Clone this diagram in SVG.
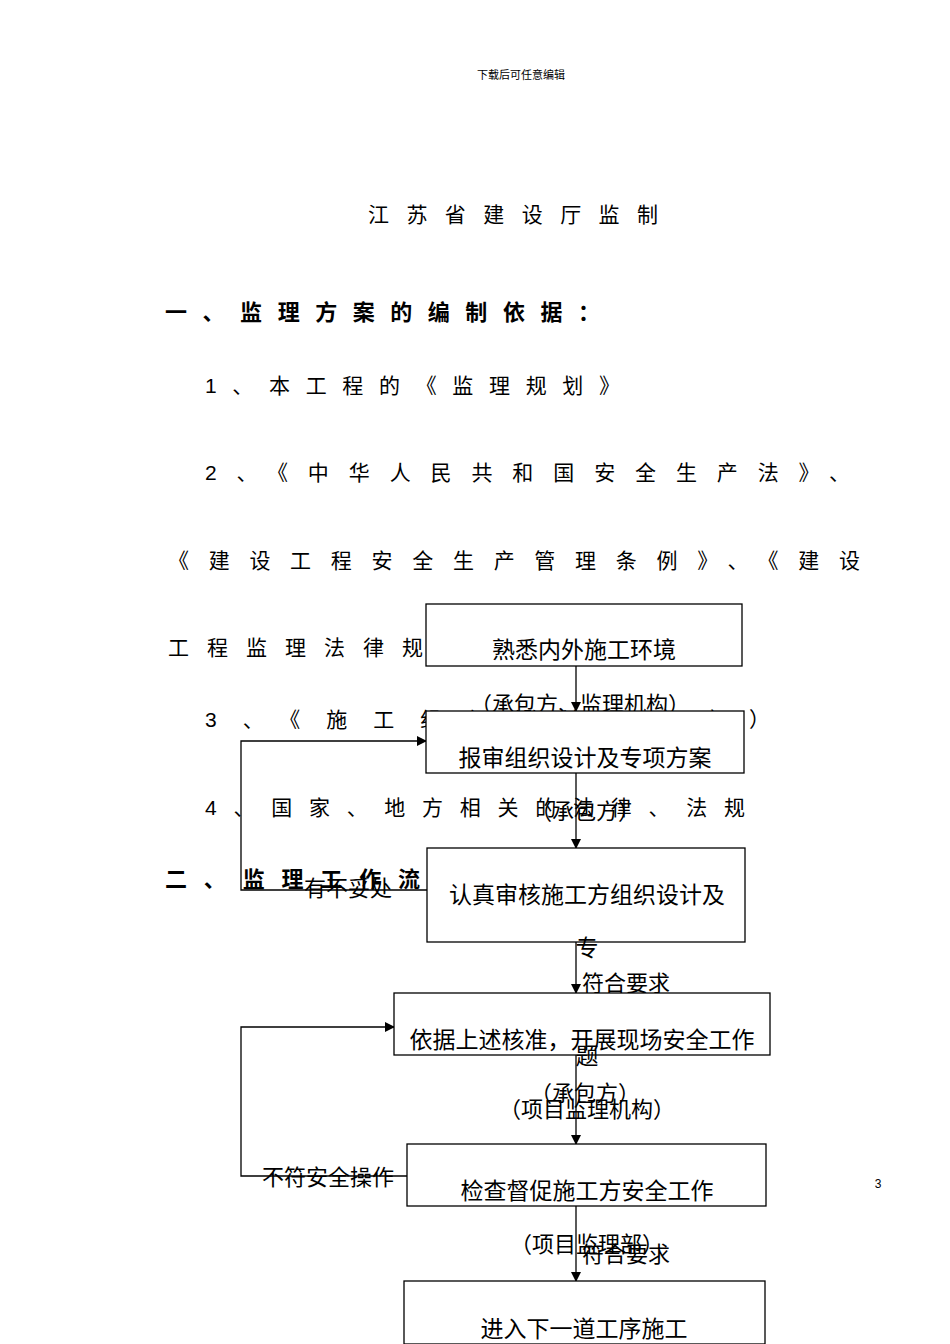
<svg xmlns="http://www.w3.org/2000/svg" width="950" height="1344" viewBox="0 0 950 1344">
<style>
text{font-family:"Liberation Sans","Noto Sans CJK SC",sans-serif;fill:#000}
.b{font-size:23px}
.l{font-size:22px}
.d{font-size:21px}
.h{font-size:22px;font-weight:bold}
.box{fill:#fff;stroke:#000;stroke-width:1.3}
.c{fill:none;stroke:#000;stroke-width:1.3}
</style>
<defs><marker id="a" markerWidth="10" markerHeight="10" refX="9" refY="5" orient="auto" markerUnits="userSpaceOnUse"><path d="M0,0L10,5L0,10z"/></marker></defs>
<rect width="950" height="1344" fill="#fff"/>
<g id="doc">
<text x="521" y="79" font-size="11" text-anchor="middle">下载后可任意编辑</text>
<text x="368" y="222" class="d" textLength="290">江苏省建设厅监制</text>
<text x="165" y="320" class="h" textLength="435">一、监理方案的编制依据：</text>
<text x="205" y="393" class="d" textLength="415">1、本工程的《监理规划》</text>
<text x="205" y="480" class="d" textLength="645">2、《中华人民共和国安全生产法》、</text>
<text x="168" y="568" class="d" textLength="692">《建设工程安全生产管理条例》、《建设</text>
<text x="168" y="655" class="d" textLength="255">工程监理法律规</text>
<text x="205" y="727" class="d" textLength="565">3、《施工组织设计及方案）</text>
<text x="205" y="815" class="d" textLength="540">4、国家、地方相关的法律、法规</text>
<text x="165" y="887" class="h" textLength="255">二、监理工作流</text>
<text x="878" y="1188" font-size="12" text-anchor="middle">3</text>
</g>
<g id="connectors">
<line class="c" x1="576" y1="666" x2="576" y2="711" marker-end="url(#a)"/>
<line class="c" x1="576" y1="773" x2="576" y2="848" marker-end="url(#a)"/>
<line class="c" x1="576" y1="942" x2="576" y2="993" marker-end="url(#a)"/>
<line class="c" x1="576" y1="1055" x2="576" y2="1144" marker-end="url(#a)"/>
<line class="c" x1="576" y1="1206" x2="576" y2="1281" marker-end="url(#a)"/>
<polyline class="c" points="427,890 241,890 241,741 426,741" marker-end="url(#a)"/>
<polyline class="c" points="407,1176 241,1176 241,1027 394,1027" marker-end="url(#a)"/>
<text x="580" y="712" class="l" text-anchor="middle">（承包方、监理机构）</text>
<text x="585" y="819" class="l" text-anchor="middle">（承包方）</text>
<text x="348" y="896" class="l" text-anchor="middle">有不妥处</text>
<text x="626" y="991" class="l" text-anchor="middle">符合要求</text>
<text x="585" y="1101" class="l" text-anchor="middle">（承包方）</text>
<text x="587" y="1117" class="l" text-anchor="middle">（项目监理机构）</text>
<text x="328" y="1185" class="l" text-anchor="middle">不符安全操作</text>
<text x="587" y="1252" class="l" text-anchor="middle">（项目监理部）</text>
<text x="626" y="1262" class="l" text-anchor="middle">符合要求</text>
</g>
<g id="n1"><rect class="box" x="426" y="604" width="316" height="62"/><text x="584" y="658" class="b" text-anchor="middle">熟悉内外施工环境</text></g>
<g id="n2"><rect class="box" x="426" y="711" width="318" height="62"/><text x="585" y="766" class="b" text-anchor="middle">报审组织设计及专项方案</text></g>
<g id="n3"><rect class="box" x="427" y="848" width="318" height="94"/><text x="587" y="903" class="b" text-anchor="middle">认真审核施工方组织设计及</text><text x="587" y="956" class="b" text-anchor="middle">专</text></g>
<g id="n4"><rect class="box" x="394" y="993" width="376" height="62"/><text x="582" y="1048" class="b" text-anchor="middle">依据上述核准，开展现场安全工作</text><text x="587" y="1064" class="b" text-anchor="middle">题</text></g>
<g id="n5"><rect class="box" x="407" y="1144" width="359" height="62"/><text x="587" y="1199" class="b" text-anchor="middle">检查督促施工方安全工作</text></g>
<g id="n6"><rect class="box" x="404" y="1281" width="361" height="63"/><text x="584" y="1337" class="b" text-anchor="middle">进入下一道工序施工</text></g>
</svg>
